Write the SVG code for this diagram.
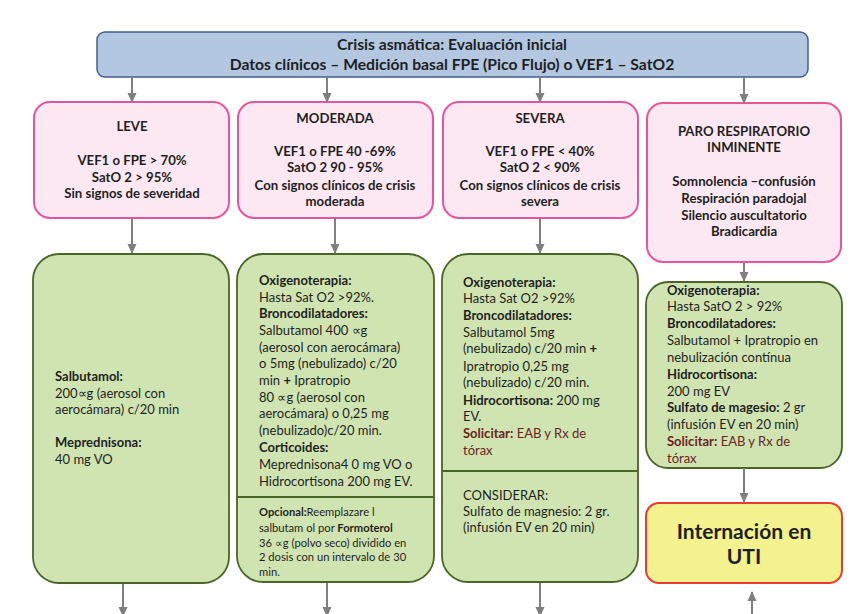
<svg xmlns="http://www.w3.org/2000/svg" width="852" height="614" viewBox="0 0 852 614">
<defs>
<marker id="ah" markerWidth="10" markerHeight="10" refX="9" refY="5" orient="auto" markerUnits="userSpaceOnUse">
<path d="M0,0.5 L10,5 L0,9.5 Z" fill="#7f7f7f"/>
</marker>
<style>
text{font-family:Lato,"Liberation Sans",sans-serif;fill:#1f1f1f}
.blue{fill:#b3c7e1;stroke:#3f6193;stroke-width:1.5}
.pink{fill:#fce8f2;stroke:#e8559a;stroke-width:2}
.green{fill:#d0e4b2;stroke:#4a6526;stroke-width:1.8}
.yellow{fill:#f3f28f;stroke:#ea3a33;stroke-width:2}
.div{stroke:#4a6526;stroke-width:1.8}
.hd{font-weight:bold;font-size:15.7px;text-anchor:middle}
.pk{font-weight:bold;font-size:13.2px;text-anchor:middle}
.tx{font-size:13px}
.sm{font-size:11.2px}
.b{font-weight:bold}
.red{fill:#6b2323}
.uti{font-weight:bold;font-size:21px;text-anchor:middle}
.conn line{stroke:#7f7f7f;stroke-width:2;marker-end:url(#ah)}
</style>
</defs>

<g id="top">
<rect class="blue" x="97" y="32" width="711" height="45" rx="8"/>
<text class="hd" x="452" y="50">Crisis asmática: Evaluación inicial</text>
<text class="hd" x="452" y="70">Datos clínicos – Medición basal FPE (Pico Flujo) o VEF1 – SatO2</text>
</g>

<g id="leve">
<rect class="pink" x="34" y="102" width="195" height="116" rx="16"/>
<text class="pk" x="132" y="131">LEVE</text>
<text class="pk" x="132" y="165">VEF1 o FPE &gt; 70%</text>
<text class="pk" x="132" y="182">SatO 2 &gt; 95%</text>
<text class="pk" x="132" y="198">Sin signos de severidad</text>
</g>

<g id="moderada">
<rect class="pink" x="238" y="102" width="195" height="116" rx="16"/>
<text class="pk" x="335" y="123">MODERADA</text>
<text class="pk" x="335" y="156">VEF1 o FPE 40 -69%</text>
<text class="pk" x="335" y="172">SatO 2 90 - 95%</text>
<text class="pk" x="335" y="190">Con signos clínicos de crisis</text>
<text class="pk" x="335" y="206">moderada</text>
</g>

<g id="severa">
<rect class="pink" x="443" y="102" width="195" height="116" rx="16"/>
<text class="pk" x="540" y="123">SEVERA</text>
<text class="pk" x="540" y="156">VEF1 o FPE &lt; 40%</text>
<text class="pk" x="540" y="172">SatO 2 &lt; 90%</text>
<text class="pk" x="540" y="190">Con signos clínicos de crisis</text>
<text class="pk" x="540" y="206">severa</text>
</g>

<g id="paro">
<rect class="pink" x="647" y="103" width="194" height="159" rx="16"/>
<text class="pk" x="744" y="136">PARO RESPIRATORIO</text>
<text class="pk" x="744" y="152">INMINENTE</text>
<text class="pk" x="744" y="186">Somnolencia –confusión</text>
<text class="pk" x="744" y="203">Respiración paradojal</text>
<text class="pk" x="744" y="220">Silencio auscultatorio</text>
<text class="pk" x="744" y="236">Bradicardia</text>
</g>

<g id="leve-tx">
<rect class="green" x="33" y="254" width="196" height="329" rx="26"/>
<text class="tx" x="55" y="381"><tspan class="b">Salbutamol:</tspan></text>
<text class="tx" x="55" y="398">200∝g (aerosol con</text>
<text class="tx" x="55" y="414">aerocámara) c/20 min</text>
<text class="tx" x="55" y="447"><tspan class="b">Meprednisona:</tspan></text>
<text class="tx" x="55" y="464">40 mg VO</text>
</g>

<g id="moderada-tx">
<rect class="green" x="237" y="254" width="197" height="328" rx="26"/>
<line class="div" x1="237" y1="497" x2="434" y2="497"/>
<text class="tx" x="259" y="285"><tspan class="b">Oxigenoterapia:</tspan></text>
<text class="tx" x="259" y="302">Hasta  Sat O2 &gt;92%.</text>
<text class="tx" x="259" y="318"><tspan class="b">Broncodilatadores:</tspan></text>
<text class="tx" x="259" y="335">Salbutamol 400 ∝g</text>
<text class="tx" x="259" y="352">(aerosol con aerocámara)</text>
<text class="tx" x="259" y="368">o 5mg (nebulizado) c/20</text>
<text class="tx" x="259" y="385">min <tspan class="b">+</tspan> Ipratropio</text>
<text class="tx" x="259" y="402">80 ∝g (aerosol con</text>
<text class="tx" x="259" y="418">aerocámara) o 0,25 mg</text>
<text class="tx" x="259" y="435">(nebulizado)c/20 min.</text>
<text class="tx" x="259" y="452"><tspan class="b">Corticoides:</tspan></text>
<text class="tx" x="259" y="469">Meprednisona4 0 mg VO o</text>
<text class="tx" x="259" y="486">Hidrocortisona 200 mg EV.</text>
<text class="sm" x="259" y="516"><tspan class="b">Opcional:</tspan>Reemplazare l</text>
<text class="sm" x="259" y="532">salbutam ol por <tspan class="b">Formoterol</tspan></text>
<text class="sm" x="259" y="547">36 ∝g (polvo seco) dividido en</text>
<text class="sm" x="259" y="561">2 dosis con un intervalo de 30</text>
<text class="sm" x="259" y="576">min.</text>
</g>

<g id="severa-tx">
<rect class="green" x="442" y="254" width="196" height="328" rx="26"/>
<line class="div" x1="442" y1="471" x2="638" y2="471"/>
<text class="tx" x="463" y="287"><tspan class="b">Oxigenoterapia:</tspan></text>
<text class="tx" x="463" y="303">Hasta  Sat O2 &gt;92%</text>
<text class="tx" x="463" y="320"><tspan class="b">Broncodilatadores:</tspan></text>
<text class="tx" x="463" y="337">Salbutamol 5mg</text>
<text class="tx" x="463" y="353">(nebulizado)  c/20 min <tspan class="b">+</tspan></text>
<text class="tx" x="463" y="371">Ipratropio  0,25 mg</text>
<text class="tx" x="463" y="387">(nebulizado) c/20 min.</text>
<text class="tx" x="463" y="405"><tspan class="b">Hidrocortisona:</tspan> 200 mg</text>
<text class="tx" x="463" y="421">EV.</text>
<text class="tx red" x="463" y="438"><tspan class="b">Solicitar:</tspan> EAB y Rx de</text>
<text class="tx red" x="463" y="455">tórax</text>
<text class="tx" x="463" y="500">CONSIDERAR:</text>
<text class="tx" x="463" y="516">Sulfato de magnesio: 2 gr.</text>
<text class="tx" x="463" y="532">(infusión EV en 20 min)</text>
</g>

<g id="paro-tx">
<rect class="green" x="646" y="282" width="196" height="186" rx="22"/>
<text class="tx" x="667" y="295"><tspan class="b">Oxigenoterapia:</tspan></text>
<text class="tx" x="667" y="311">Hasta SatO 2 &gt; 92%</text>
<text class="tx" x="667" y="328"><tspan class="b">Broncodilatadores:</tspan></text>
<text class="tx" x="667" y="345">Salbutamol + Ipratropio en</text>
<text class="tx" x="667" y="362">nebulización contínua</text>
<text class="tx" x="667" y="379"><tspan class="b">Hidrocortisona:</tspan></text>
<text class="tx" x="667" y="396">200 mg EV</text>
<text class="tx" x="667" y="412"><tspan class="b">Sulfato de magesio:</tspan> 2 gr</text>
<text class="tx" x="667" y="429">(infusión EV en 20 min)</text>
<text class="tx red" x="667" y="446"><tspan class="b">Solicitar:</tspan>  EAB y Rx de</text>
<text class="tx red" x="667" y="463">tórax</text>
</g>

<g id="uti">
<rect class="yellow" x="646" y="503" width="196" height="80" rx="13"/>
<text class="uti" x="744" y="539">Internación en</text>
<text class="uti" x="744" y="564">UTI</text>
</g>

<g class="conn" id="connectors">
<line x1="132" y1="77" x2="132" y2="102"/>
<line x1="327" y1="77" x2="327" y2="102"/>
<line x1="540" y1="77" x2="540" y2="102"/>
<line x1="744" y1="77" x2="744" y2="103"/>
<line x1="132" y1="218" x2="132" y2="253"/>
<line x1="335" y1="218" x2="335" y2="253"/>
<line x1="540" y1="218" x2="540" y2="253"/>
<line x1="744" y1="263" x2="744" y2="281"/>
<line x1="744" y1="468" x2="744" y2="502"/>
<line x1="123" y1="584" x2="123" y2="616"/>
<line x1="327" y1="583" x2="327" y2="616"/>
<line x1="540" y1="583" x2="540" y2="616"/>
<line x1="752" y1="616" x2="752" y2="592"/>
</g>
</svg>
